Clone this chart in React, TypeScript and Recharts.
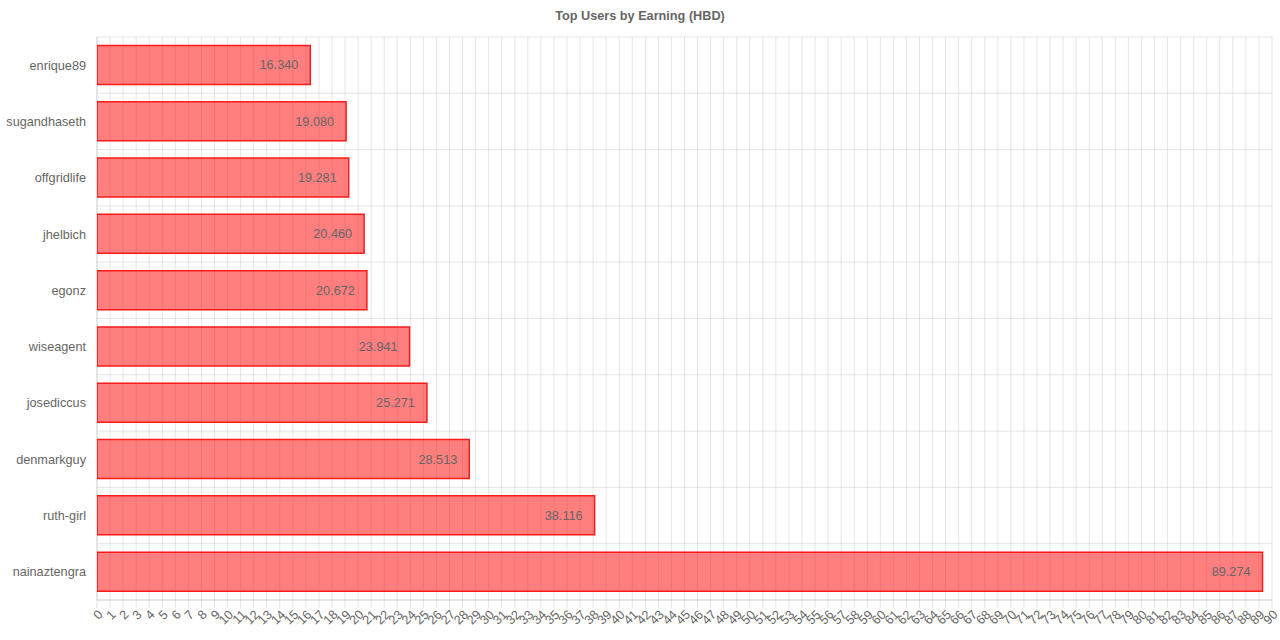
import { BarChart, Bar, XAxis, YAxis, CartesianGrid, LabelList } from "recharts";

const users = [
  "enrique89",
  "sugandhaseth",
  "offgridlife",
  "jhelbich",
  "egonz",
  "wiseagent",
  "josediccus",
  "denmarkguy",
  "ruth-girl",
  "nainaztengra",
];

const earnings = [16.34, 19.08, 19.281, 20.46, 20.672, 23.941, 25.271, 28.513, 38.116, 89.274];

const xTicks = Array.from({ length: 91 }, (_, i) => i);

const data = users.map((name, i) => ({ name, hbd: earnings[i] }));

const grid = "rgba(0,0,0,0.1)";
const font = "'Liberation Sans', Arial, Helvetica, sans-serif";
const fs = 12.7;

export default function App() {
  return (
    <div style={{ position: "absolute", left: 0, top: 0, width: 1280, height: 640, background: "#fff", fontFamily: font }}>
      <div
        style={{
          position: "absolute",
          top: 9,
          left: 0,
          width: 1280,
          textAlign: "center",
          fontSize: fs,
          fontWeight: "bold",
          color: "#666",
        }}
      >
        Top Users by Earning (HBD)
      </div>
      <BarChart
        width={1280}
        height={640}
        data={data}
        layout="vertical"
        margin={{ top: 37, right: 8, bottom: 0, left: 0 }}
        barCategoryGap="15%"
      >
        <CartesianGrid
          stroke={grid}
          horizontalCoordinatesGenerator={({ offset }: any) =>
            users.map((_, i) => offset.top + (i * offset.height) / users.length).concat(offset.top + offset.height)
          }
        />
        <XAxis
          type="number"
          domain={[0, 90]}
          ticks={xTicks}
          interval={0}
          allowDataOverflow
          axisLine={{ stroke: grid }}
          tickLine={{ stroke: grid }}
          tickSize={8}
          tickMargin={1}
          angle={-45}
          textAnchor="end"
          height={40}
          tick={{ fill: "#666", fontSize: fs, fontFamily: font }}
        />
        <YAxis
          type="category"
          dataKey="name"
          width={97}
          axisLine={{ stroke: grid }}
          tickLine={false}
          tickMargin={5}
          tick={{ fill: "#666", fontSize: fs, fontFamily: font }}
        />
        <Bar
          dataKey="hbd"
          fill="rgba(255,0,0,0.5)"
          stroke="#ff1a1a"
          strokeWidth={1.5}
          isAnimationActive={false}
        >
          <LabelList
            dataKey="hbd"
            position="insideRight"
            offset={12}
            fill="#666"
            fontSize={fs}
            fontFamily={font}
            formatter={(v: any) => Number(v).toFixed(3)}
          />
        </Bar>
      </BarChart>
    </div>
  );
}
